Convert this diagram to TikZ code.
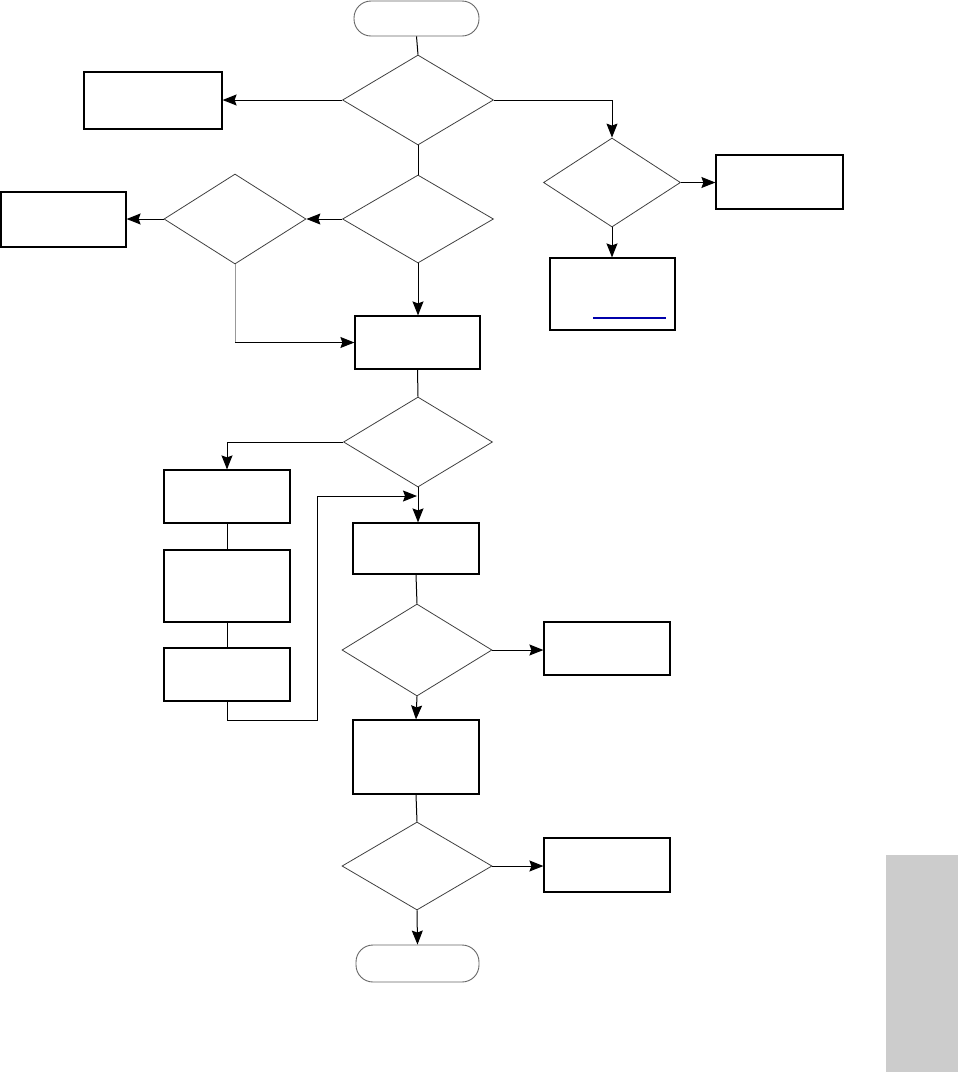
\documentclass[tikz,border=0pt]{standalone}
\usetikzlibrary{shapes.geometric,arrows.meta}
\definecolor{ulblue}{RGB}{0,0,170}
\begin{document}
\begin{tikzpicture}[x=1pt,y=-1pt,
  box/.style={draw=black,line width=1.2pt,rectangle,inner sep=0pt},
  dia/.style={draw=black!75,line width=0.8pt,diamond,inner sep=0pt},
  term/.style={draw=black!60,line width=0.9pt,rectangle,rounded corners=17pt,inner sep=0pt},
  arr/.style={line width=1pt,-{Stealth[length=14pt,width=11pt,inset=2pt]}},
  ln/.style={line width=1pt}]
\useasboundingbox (0,0) rectangle (958,1072);
\fill[black!20] (886,855) rectangle (958,1072);
% terminators
\node[term,minimum width=125pt,minimum height=35pt] (S) at (416.5,18.5) {};
\node[term,minimum width=123pt,minimum height=37pt] (End) at (417.5,963.5) {};
% diamonds
\node[dia,minimum width=151pt,minimum height=90pt] (D1) at (418,100) {};
\node[dia,minimum width=137pt,minimum height=89pt] (D2) at (612,182.5) {};
\node[dia,minimum width=151pt,minimum height=88pt] (D3) at (418,219) {};
\node[dia,minimum width=142pt,minimum height=90pt] (D4) at (235,219) {};
\node[dia,minimum width=149pt,minimum height=90pt] (D5) at (418,442) {};
\node[dia,minimum width=150pt,minimum height=92pt] (D6) at (417,650) {};
\node[dia,minimum width=150pt,minimum height=88pt] (D7) at (417,866) {};
% boxes
\node[box,minimum width=138pt,minimum height=57pt] (A) at (153,100.5) {};
\node[box,minimum width=127pt,minimum height=54pt] (B) at (779.5,182) {};
\node[box,minimum width=125pt,minimum height=72pt] (C) at (612.5,294) {};
\node[box,minimum width=125pt,minimum height=55pt] (Dbox) at (63.5,219.5) {};
\node[box,minimum width=125pt,minimum height=53pt] (E) at (417.5,342.5) {};
\node[box,minimum width=126pt,minimum height=53pt] (F) at (227,496.5) {};
\node[box,minimum width=126pt,minimum height=72pt] (G) at (227,586) {};
\node[box,minimum width=126pt,minimum height=53pt] (H) at (227,674.5) {};
\node[box,minimum width=126pt,minimum height=51pt] (I) at (416,548.5) {};
\node[box,minimum width=126pt,minimum height=53pt] (J) at (607,648.5) {};
\node[box,minimum width=126pt,minimum height=74pt] (K) at (416,757) {};
\node[box,minimum width=126pt,minimum height=54pt] (L) at (607,865) {};
\draw[ulblue,line width=1.3pt] (593,318) -- (666,318);
% connectors
\draw[ln] (S.south) -- (D1.north);
\draw[arr] (D1.west) -- (D1.west -| A.east);
\draw[arr] (D1.east) -| (D2.north);
\draw[arr] (D2.east) -- (D2.east -| B.west);
\draw[arr] (D2.south) -- (D2.south |- C.north);
\draw[ln] (D1.south) -- (D3.north);
\draw[arr] (D3.west) -- (D4.east);
\draw[arr] (D4.west) -- (D4.west -| Dbox.east);
\coordinate (c1) at (D4.south |- E.west);
\draw[black!40,line width=1pt] (D4.south) -- (c1);
\draw[arr] (c1) -- (E.west);
\draw[arr] (D3.south) -- (D3.south |- E.north);
\draw[ln] (E.south) -- (D5.north);
\draw[arr] (D5.west) -| (F.north);
\draw[ln] (F.south) -- (G.north);
\draw[ln] (G.south) -- (H.north);
\coordinate (h1) at (227,720);
\coordinate (h2) at (317,720);
\coordinate (h3) at (317,496);
\coordinate (j) at (417,496);
\draw[arr] (H.south) -- (h1) -- (h2) -- (h3) -- (j);
\draw[arr] (D5.south) -- (D5.south |- I.north);
\draw[ln] (I.south) -- (D6.north);
\draw[arr] (D6.east) -- (D6.east -| J.west);
\draw[arr] (D6.south) -- (K.north);
\draw[ln] (K.south) -- (D7.north);
\draw[arr] (D7.east) -- (D7.east -| L.west);
\draw[arr] (D7.south) -- (End.north);
\end{tikzpicture}
\end{document}
